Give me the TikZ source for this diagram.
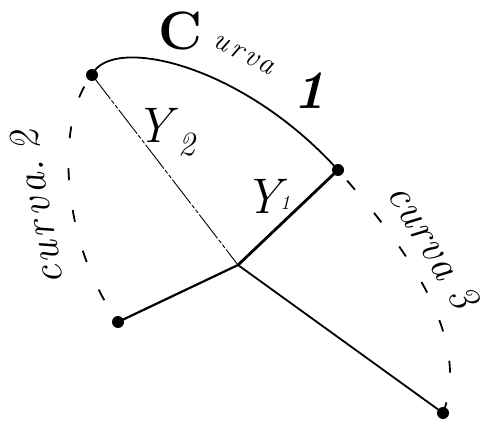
\documentclass[tikz,border=0pt]{standalone}
\usepackage{fontspec}
\usepackage{tikz}
\begin{document}
\begin{tikzpicture}[x=1pt,y=-1pt,
  dotpt/.style={circle,fill=black,inner sep=0pt,minimum size=12pt},
  hand/.style={font=\itshape\fontsize{42}{42}\selectfont},
  dashcurve/.style={line width=1.8pt,dash pattern=on 12pt off 30pt,dash phase=-14pt},
  lbl/.style={inner sep=0pt}]
\useasboundingbox (0,0) rectangle (485,428);
\node[dotpt] (p1) at (92,75) {};
\node[dotpt] (p2) at (338,170) {};
\node[dotpt] (p3) at (118,322) {};
\node[dotpt] (p4) at (443,413) {};
\coordinate (o) at (238,265);
% curve 1
\draw[line width=1.8pt] (p1.center) .. controls (110,35) and (240,62) .. (p2.center);
% curve 2 and 3 dashed
\draw[dashcurve] (p1.center) .. controls (55,120) and (60,240) .. (p3.center);
\draw[dashcurve] (p2.center) .. controls (390,230) and (475,330) .. (p4.center);
% radii
\draw[line width=0.9pt,dash pattern=on 30pt off 2pt on 4pt off 2pt on 4pt off 2pt] (p1.center) -- (o);
\draw[line width=2.8pt] (p2.center) -- (o);
\draw[line width=2.2pt] (o) -- (p3.center);
\draw[line width=1.8pt] (o) -- (p4.center);
% labels
\node[lbl] (c1a) at (180,31) {\fontsize{54}{54}\selectfont\textbf{C}};
\node[lbl,rotate=-27] (c1b) at (244,55) {\fontsize{30}{30}\selectfont\textit{u\hspace{3pt}r\hspace{3pt}v\hspace{3pt}a}};
\node[lbl] (c1c) at (309,91) {\fontsize{54}{54}\selectfont\textbf{\textit{1}}};
\node[lbl,hand,rotate=100,anchor=base west] (c2) at (64,283) {c\hspace{3pt}u\hspace{3pt}r\hspace{5pt}v\hspace{4pt}a.\hspace{10pt}2};
\node[lbl,hand,rotate=-59,anchor=base west] (c3) at (386,193) {c\hspace{1.5pt}u\hspace{1.5pt}r\hspace{1.5pt}v\hspace{1.5pt}a\hspace{14pt}3};
\node[lbl] (r2y) at (157,125) {\fontsize{50}{50}\selectfont\textit{Y}};
\node[lbl] (r2s) at (187,145) {\fontsize{34}{34}\selectfont\textit{2}};
\node[lbl] (r1y) at (266,196) {\fontsize{50}{50}\selectfont\textit{Y}};
\node[lbl] (r1s) at (285,203) {\fontsize{20}{20}\selectfont\textit{1}};
\end{tikzpicture}
\end{document}
